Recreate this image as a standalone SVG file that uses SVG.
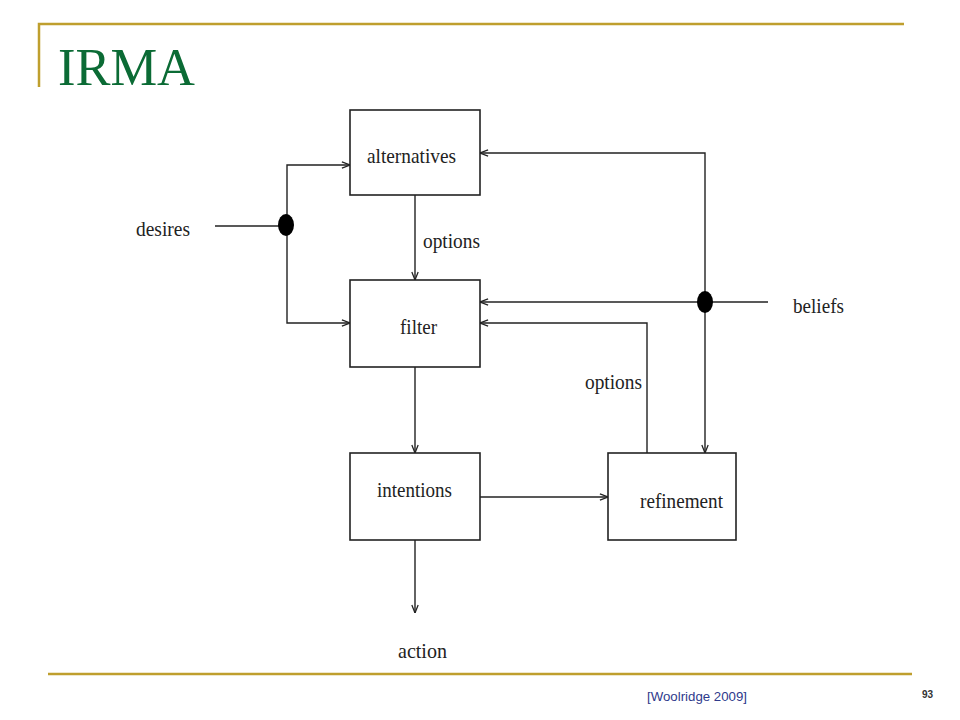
<svg xmlns="http://www.w3.org/2000/svg" width="960" height="720" viewBox="0 0 960 720">
<defs>
<style>
.gold{stroke:#bf9f2e;stroke-width:2.5;fill:none}
.box{fill:#fff;stroke:#222;stroke-width:1.6}
.ln{fill:none;stroke:#222;stroke-width:1.4}
.lbl{font-family:"Liberation Serif","Times New Roman",serif;font-size:22px;fill:#222}
.dot{fill:#000}
</style>
<marker id="ar" viewBox="0 0 10 10" refX="10" refY="5" markerWidth="9" markerHeight="9" markerUnits="userSpaceOnUse" orient="auto">
<path d="M1,1.5 L10,5 L1,8.5" fill="none" stroke="#222" stroke-width="1.4"/>
</marker>
</defs>
<rect width="960" height="720" fill="#fff"/>
<path class="gold" d="M39,87 V24 H904"/>
<path class="gold" d="M48,674 H912"/>
<text x="58" y="85" font-family="Liberation Serif,'Times New Roman',serif" font-size="53" fill="#0b6b35" textLength="137" lengthAdjust="spacingAndGlyphs">IRMA</text>
<text x="647" y="701" font-family="Liberation Sans,Arial,sans-serif" font-size="12.5" fill="#2e3a8c" textLength="100" lengthAdjust="spacingAndGlyphs">[Woolridge 2009]</text>
<text x="922" y="698" font-family="Liberation Sans,Arial,sans-serif" font-size="10" font-weight="bold" fill="#333">93</text>

<g id="connectors">
<path class="ln" d="M215,226 H286"/>
<path class="ln" d="M287,226 V165 H350" marker-end="url(#ar)"/>
<path class="ln" d="M287,226 V323 H350" marker-end="url(#ar)"/>
<path class="ln" d="M415,195 V280" marker-end="url(#ar)"/>
<path class="ln" d="M768,302 H480" marker-end="url(#ar)"/>
<path class="ln" d="M705,302 V153 H480" marker-end="url(#ar)"/>
<path class="ln" d="M705,302 V453" marker-end="url(#ar)"/>
<path class="ln" d="M647,453 V323 H480" marker-end="url(#ar)"/>
<path class="ln" d="M415,367 V453" marker-end="url(#ar)"/>
<path class="ln" d="M480,497 H608" marker-end="url(#ar)"/>
<path class="ln" d="M415,540 V613" marker-end="url(#ar)"/>
<ellipse class="dot" cx="286" cy="225" rx="8" ry="11"/>
<ellipse class="dot" cx="705" cy="302" rx="8" ry="11"/>
<text class="lbl" x="423" y="248" textLength="57" lengthAdjust="spacingAndGlyphs">options</text>
<text class="lbl" x="585" y="389" textLength="57" lengthAdjust="spacingAndGlyphs">options</text>
</g>

<g id="desires"><text class="lbl" x="136" y="236" textLength="54" lengthAdjust="spacingAndGlyphs">desires</text></g>
<g id="beliefs"><text class="lbl" x="793" y="313" textLength="51" lengthAdjust="spacingAndGlyphs">beliefs</text></g>
<g id="action"><text class="lbl" x="398" y="658" textLength="49" lengthAdjust="spacingAndGlyphs">action</text></g>

<g id="alternatives">
<rect class="box" x="350" y="110" width="130" height="85"/>
<text class="lbl" x="367" y="163" textLength="89" lengthAdjust="spacingAndGlyphs">alternatives</text>
</g>
<g id="filter">
<rect class="box" x="350" y="280" width="130" height="87"/>
<text class="lbl" x="400" y="334" textLength="37" lengthAdjust="spacingAndGlyphs">filter</text>
</g>
<g id="intentions">
<rect class="box" x="350" y="453" width="130" height="87"/>
<text class="lbl" x="377" y="497" textLength="75" lengthAdjust="spacingAndGlyphs">intentions</text>
</g>
<g id="refinement">
<rect class="box" x="608" y="453" width="128" height="87"/>
<text class="lbl" x="640" y="508" textLength="83" lengthAdjust="spacingAndGlyphs">refinement</text>
</g>
</svg>
